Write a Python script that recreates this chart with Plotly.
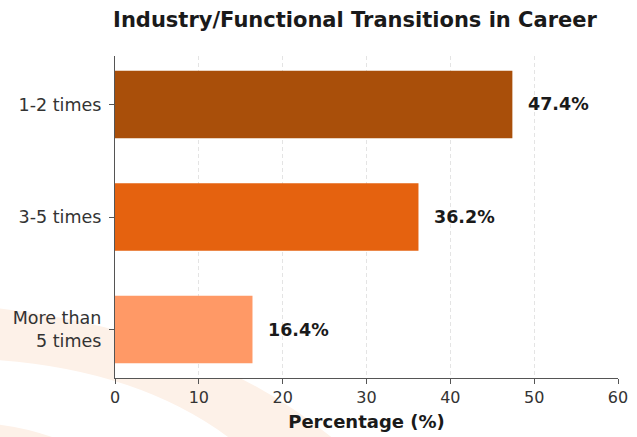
import plotly.graph_objects as go

categories = ["1-2 times", "3-5 times", "More than<br>5 times"]
values = [47.4, 36.2, 16.4]
colors = ["#A94F0A", "#E5620F", "#FF9966"]
x_ticks = [0, 10, 20, 30, 40, 50, 60]

pos = list(range(len(categories)))

W, H = 637, 437
L, R, T, B = 115, 19, 56, 59
PW, PH = W - L - R, H - T - B


def px(x, y):
    """pixel -> paper coords (plot-area relative)"""
    return (x - L) / PW, (H - B - y) / PH


def path_from(points):
    s = ""
    for cmd, pts in points:
        s += cmd + " " + " ".join(f"{a:.4f},{b:.4f}" for a, b in (px(*p) for p in pts)) + " "
    return s + "Z"


fig = go.Figure()
fig.add_trace(go.Bar(
    y=pos, x=values, orientation="h", width=0.6,
    marker=dict(color=colors, line=dict(width=0)),
    hoverinfo="skip",
))

for p, v in zip(pos, values):
    fig.add_annotation(x=v, y=p, text=f"<b>{v:.1f}%</b>", showarrow=False,
                       xanchor="left", xshift=14,
                       font=dict(size=17.5, color="#1a1a1a", family="DejaVu Sans"))

# faint decorative watermark swoosh in the background (bottom-left)
swoosh = path_from([
    ("M", [(-5, 308)]),
    ("Q", [(200, 330), (335, 440)]),
    ("L", [(232, 440)]),
    ("Q", [(140, 370), (-5, 360)]),
])
swoosh2 = path_from([
    ("M", [(-5, 424)]),
    ("Q", [(30, 428), (60, 440)]),
    ("L", [(-5, 440)]),
])
shapes = [
    dict(type="path", xref="paper", yref="paper", path=swoosh, layer="below",
         fillcolor="#FDF1E8", line=dict(width=0)),
    dict(type="path", xref="paper", yref="paper", path=swoosh2, layer="below",
         fillcolor="#FDF1E8", line=dict(width=0)),
    dict(type="rect", xref="paper", yref="paper", x0=0, x1=1, y0=0, y1=1, layer="below",
         fillcolor="white", line=dict(width=0)),
]

fig.update_layout(
    width=W, height=H,
    margin=dict(l=L, r=R, t=T, b=B, autoexpand=False),
    paper_bgcolor="white", plot_bgcolor="white",
    showlegend=False,
    shapes=shapes,
    title=dict(text="<b>Industry/Functional Transitions in Career</b>",
               x=355 / W, xanchor="center", y=1 - 20 / H, yanchor="middle",
               font=dict(size=21, color="#1a1a1a", family="DejaVu Sans")),
    font=dict(family="DejaVu Sans", color="#333333"),
)
fig.update_xaxes(
    range=[0, 60], tickvals=x_ticks, ticks="outside", ticklen=5, tickcolor="#555555",
    showline=True, linecolor="#555555", linewidth=1.3, automargin=False,
    showgrid=True, gridcolor="#e4e4e4", griddash="4px,3px", gridwidth=1,
    zeroline=False, tickfont=dict(size=16, color="#333333"),
    title=dict(text="<b>Percentage (%)</b>", font=dict(size=18, color="#1a1a1a"), standoff=9),
)
fig.update_yaxes(
    range=[2.43, -0.43], tickvals=pos, ticktext=categories,
    ticks="outside", ticklen=5, tickcolor="#555555", ticklabelstandoff=4,
    showline=True, linecolor="#555555", linewidth=1.3, automargin=False,
    showgrid=False, zeroline=False, tickfont=dict(size=17.5, color="#333333"),
)

fig.write_html("out.html")
